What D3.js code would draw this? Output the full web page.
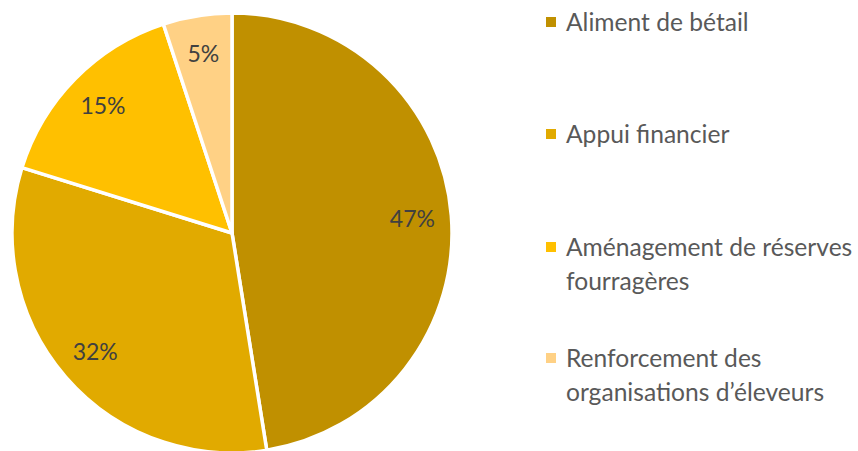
<!DOCTYPE html>
<html lang="fr">
<head>
<meta charset="UTF-8">
<title>Pie chart</title>
<style>
  body { margin: 0; background: #fff; }
  svg { display: block; font-family: Lato, "Open Sans", sans-serif; }
</style>
</head>
<body>
<div id="chart"></div>
<script src="https://d3js.org/d3.v7.min.js"></script>
<script>
// chart data
const categories = ["Aliment de bétail", "Appui financier", "Aménagement de réserves fourragères", "Renforcement des organisations d’éleveurs"];
const legendLines = [["Aliment de bétail"], ["Appui financier"], ["Aménagement de réserves", "fourragères"], ["Renforcement des", "organisations d’éleveurs"]];
const values = [47, 32, 15, 5];
const colors = ["#C09000", "#E1AA00", "#FFC000", "#FFD185"];

const width = 858, height = 451;
const cx = 232, cy = 233, r = 220;

const svg = d3.select("#chart").append("svg")
    .attr("width", width)
    .attr("height", height);

const pie = d3.pie().sort(null).value(d => d);
const arcs = pie(values);

const arc = d3.arc().innerRadius(0).outerRadius(r);
const labelArc = d3.arc().innerRadius(181).outerRadius(181);

const g = svg.append("g").attr("transform", `translate(${cx},${cy})`);

g.selectAll("path")
  .data(arcs)
  .join("path")
    .attr("d", arc)
    .attr("fill", (d, i) => colors[i])
    .attr("stroke", "#fff")
    .attr("stroke-width", 3.5)
    .attr("stroke-linejoin", "round");

g.selectAll("text.lbl")
  .data(arcs)
  .join("text")
    .attr("class", "lbl")
    .attr("transform", d => `translate(${labelArc.centroid(d)})`)
    .attr("text-anchor", "middle")
    .attr("dy", "0.35em")
    .attr("font-size", 23)
    .attr("fill", "#404040")
    .text(d => d.data + "%");

// legend
const legendY = [22, 134, 247, 358];
const leg = svg.append("g");
categories.forEach((c, i) => {
  const item = leg.append("g").attr("transform", `translate(546,${legendY[i]})`);
  item.append("rect")
    .attr("x", 0).attr("y", -5)
    .attr("width", 10).attr("height", 10)
    .attr("fill", colors[i]);
  legendLines[i].forEach((t, j) => {
    item.append("text")
      .attr("x", 20)
      .attr("y", j * 34)
      .attr("dy", "0.35em")
      .attr("font-size", 24.6)
      .attr("fill", "#595959")
      .text(t);
  });
});
</script>
</body>
</html>
